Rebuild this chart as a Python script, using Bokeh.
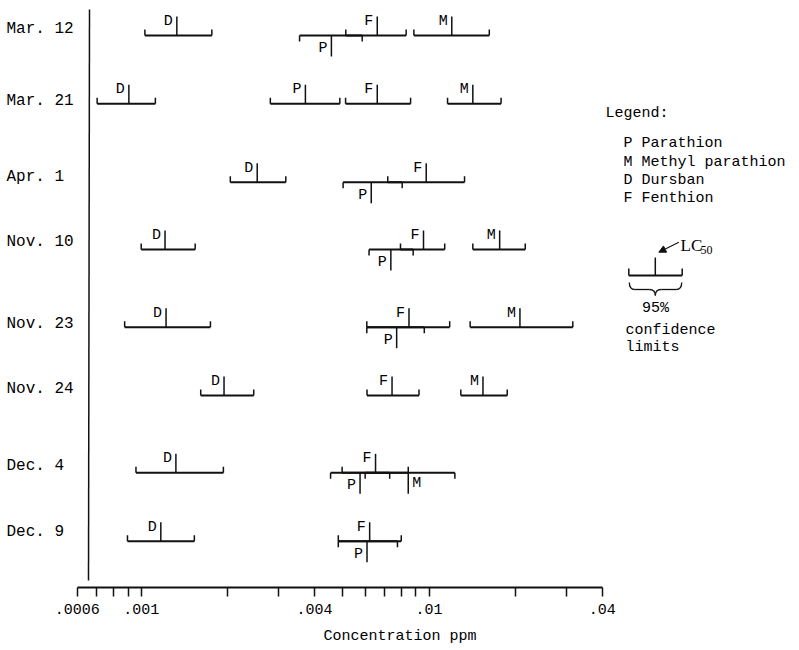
import math
from bokeh.plotting import figure
from bokeh.models import (Range1d, FixedTicker, CustomJSTickFormatter,
                          ColumnDataSource, Arrow, NormalHead)
from bokeh.core.properties import value
from bokeh.embed import file_html
from bokeh.resources import INLINE

# ---------------- data (ppm) ----------------
dates = ["Mar. 12", "Mar. 21", "Apr. 1", "Nov. 10", "Nov. 23", "Nov. 24", "Dec. 4", "Dec. 9"]

compound_codes = ["P", "M", "D", "F"]
compound_names = ["Parathion", "Methyl parathion", "Dursban", "Fenthion"]

# Parathion
P_lc50 = [0.00458, 0.00372, 0.00630, 0.00737, 0.00772, None, 0.00576, 0.00609]
P_low  = [0.00355, 0.00281, 0.00503, 0.00619, 0.00608, None, 0.00455, 0.00484]
P_high = [0.00586, 0.00490, 0.00807, 0.00881, 0.00963, None, 0.00730, 0.00777]
# Methyl parathion
M_lc50 = [0.0120, 0.0142, None, 0.0176, 0.0207, 0.0154, 0.00847, None]
M_low  = [0.00886, 0.0116, None, 0.0142, 0.0139, 0.0129, 0.00600, None]
M_high = [0.0162, 0.0178, None, 0.0216, 0.0316, 0.0187, 0.0123, None]
# Dursban
D_lc50 = [0.00133, 0.000906, 0.00253, 0.00121, 0.00122, 0.00194, 0.00132, 0.00117]
D_low  = [0.00103, 0.000703, 0.00204, 0.00100, 0.000876, 0.00161, 0.000959, 0.000896]
D_high = [0.00176, 0.00112, 0.00318, 0.00154, 0.00174, 0.00246, 0.00193, 0.00153]
# Fenthion
F_lc50 = [0.00661, 0.00661, 0.00978, 0.00957, 0.00852, 0.00744, 0.00652, 0.00622]
F_low  = [0.00514, 0.00513, 0.00719, 0.00796, 0.00608, 0.00609, 0.00499, 0.00484]
F_high = [0.00833, 0.00863, 0.01329, 0.01134, 0.0118, 0.00923, 0.00847, 0.00801]

tick_values = [0.0006, 0.0007, 0.0008, 0.0009, 0.001, 0.002, 0.003, 0.004, 0.005,
               0.006, 0.007, 0.008, 0.009, 0.01, 0.02, 0.03, 0.04]
tick_labels = [".0006", "", "", "", ".001", "", "", ".004", "", "",
               "", "", "", ".01", "", "", ".04"]
axis_title = "Concentration ppm"

# ---------------- layout (canvas pixels) ----------------
W, H = 799, 650
FRAME_H = 587
X_AT_0001 = 140.7       # canvas x of 0.001 ppm
PX_PER_DECADE = 287.8
ROW_Y = [35, 103.3, 181.7, 249, 326.7, 395, 472.3, 540.7]
DATE_DY = [-6.7, -3.3, -5, -7.3, -3.4, -6.7, -7.3, -9]

def cx(px):
    return 10 ** (-3 + (px - X_AT_0001) / PX_PER_DECADE)

INK = "#111111"
MONO = "Liberation Mono"

p = figure(width=W, height=H, output_backend="svg", toolbar_location=None,
           x_axis_type="log", y_axis_location=None,
           x_range=Range1d(cx(0), cx(W)), y_range=Range1d(FRAME_H, 0),
           min_border_left=0, min_border_right=0, min_border_top=0,
           min_border_bottom=H - FRAME_H)
p.outline_line_color = None
p.grid.visible = False
p.background_fill_color = "white"
p.border_fill_color = "white"

ax = p.xaxis[0]
ax.bounds = (tick_values[0], tick_values[-1])
ax.ticker = FixedTicker(ticks=tick_values, minor_ticks=[])
ax.formatter = CustomJSTickFormatter(args=dict(vals=tick_values, labs=tick_labels), code="""
    for (let i = 0; i < vals.length; i++) {
        if (Math.abs(tick / vals[i] - 1) < 1e-6) { return labs[i]; }
    }
    return "";
""")
ax.axis_line_width = 2
ax.axis_line_color = INK
ax.major_tick_out = 9
ax.major_tick_in = 0
ax.minor_tick_out = 0
ax.minor_tick_in = 0
ax.major_tick_line_width = 1.5
ax.major_tick_line_color = INK
ax.major_label_text_font = MONO
ax.major_label_text_font_size = "15px"
ax.major_label_text_color = "black"
ax.major_label_standoff = 7
ax.axis_label = axis_title
ax.axis_label_text_font = MONO
ax.axis_label_text_font_size = "15px"
ax.axis_label_text_font_style = "normal"
ax.axis_label_text_color = "black"
ax.axis_label_standoff = 11

# vertical axis line
p.segment(x0=[cx(89)], y0=[9], x1=[cx(88)], y1=[580], line_color=INK, line_width=1.5)

# date labels
p.text(x=[cx(6)] * len(dates), y=[y + d for y, d in zip(ROW_Y, DATE_DY)], text=dates,
       text_font=value(MONO), text_font_size="16px", text_align="left",
       text_baseline="middle", text_color="black")

series = {
    "P": (P_low, P_lc50, P_high),
    "M": (M_low, M_lc50, M_high),
    "D": (D_low, D_lc50, D_high),
    "F": (F_low, F_lc50, F_high),
}
draw_order = ["D", "F", "P", "M"]

bars = dict(x0=[], x1=[], y=[])
ticks = dict(x=[], y0=[], y1=[])
labels = {"above": dict(x=[], y=[], t=[]),
          "below_left": dict(x=[], y=[], t=[]),
          "below_right": dict(x=[], y=[], t=[])}

END_TICK = 6
LC_UP = 19
LC_DOWN = 21

for i, y in enumerate(ROW_Y):
    seen = []
    for code in draw_order:
        lo, lc, hi = (s[i] for s in series[code])
        if lc is None:
            continue
        overlap = any(lo <= oh and hi >= ol for ol, oh in seen)
        seen.append((lo, hi))
        if not overlap:
            mode = "above"
        elif code == "P":
            mode = "below_left"
        else:
            mode = "below_right"
        bars["x0"].append(lo); bars["x1"].append(hi); bars["y"].append(y)
        d = -1 if mode == "above" else 1
        for xv in (lo, hi):
            ticks["x"].append(xv); ticks["y0"].append(y); ticks["y1"].append(y + d * END_TICK)
        ticks["x"].append(lc); ticks["y0"].append(y)
        ticks["y1"].append(y + (d * LC_UP if d < 0 else LC_DOWN))
        lab = labels[mode]
        lab["x"].append(lc)
        lab["y"].append(y + {"above": -14, "below_left": 13, "below_right": 11}[mode])
        lab["t"].append(code)

p.segment(x0="x0", y0="y", x1="x1", y1="y", source=ColumnDataSource(bars),
          line_color=INK, line_width=2)
p.segment(x0="x", y0="y0", x1="x", y1="y1", source=ColumnDataSource(ticks),
          line_color=INK, line_width=1.5)

for mode, src in labels.items():
    left = mode == "below_right"
    p.text(x="x", y="y", text="t", source=ColumnDataSource(src),
           text_font=value(MONO), text_font_size="15px",
           text_align="left" if left else "right",
           x_offset=4 if left else -4,
           text_baseline="middle", text_color="black")

# ---------------- legend block ----------------
p.text(x=[cx(605)], y=[113], text=["Legend:"], text_font=value(MONO),
       text_font_size="15px", text_align="left", text_baseline="middle", text_color="black")
leg_lines = [f"{c} {n}" for c, n in zip(compound_codes, compound_names)]
p.text(x=[cx(623)] * 4, y=[143.3, 161.7, 180, 198.3], text=leg_lines,
       text_font=value(MONO), text_font_size="15px", text_align="left",
       text_baseline="middle", text_color="black")

# LC50 key
kl, kr, kc, ky = 628.3, 681.7, 654.8, 275
p.segment(x0=[cx(kl)], y0=[ky], x1=[cx(kr)], y1=[ky], line_color=INK, line_width=2)
p.segment(x0=[cx(kl), cx(kr), cx(kc)], y0=[ky, ky, ky],
          x1=[cx(kl), cx(kr), cx(kc)], y1=[ky - 7, ky - 7, ky - 18],
          line_color=INK, line_width=1.5)
p.add_layout(Arrow(x_start=cx(678.3), y_start=241.7, x_end=cx(658.3), y_end=251.7,
                   line_color=INK, line_width=1.2,
                   end=NormalHead(size=7, fill_color=INK, line_color=INK)))
p.text(x=[cx(680)], y=[245], text=["LC"], text_font=value("Liberation Serif"),
       text_font_size="17px", text_align="left", text_baseline="middle", text_color="black")
p.text(x=[cx(700)], y=[249], text=["50"], text_font=value("Liberation Serif"),
       text_font_size="12px", text_align="left", text_baseline="middle", text_color="black")

# brace
by0, by1, byp = 282, 289, 295
p.quadratic(x0=[cx(kl + 0.5), cx(kc), cx(kc), cx(kr - 0.5)],
            y0=[by0, byp, byp, by0],
            x1=[cx(kl + 6), cx(kc - 6), cx(kc + 6), cx(kr - 6)],
            y1=[by1, by1, by1, by1],
            cx=[cx(kl + 0.5), cx(kc), cx(kc), cx(kr - 0.5)],
            cy=[by1, by1, by1, by1], line_color=INK, line_width=1.3)
p.segment(x0=[cx(kl + 6), cx(kc + 6)], y0=[by1, by1],
          x1=[cx(kc - 6), cx(kr - 6)], y1=[by1, by1], line_color=INK, line_width=1.3)

p.text(x=[cx(655)], y=[308.3], text=["95%"], text_font=value(MONO),
       text_font_size="15px", text_align="center", text_baseline="middle", text_color="black")
p.text(x=[cx(625)] * 2, y=[330, 346.7], text=["confidence", "limits"],
       text_font=value(MONO), text_font_size="15px", text_align="left",
       text_baseline="middle", text_color="black")

open("out.html", "w").write(file_html(p, INLINE))
